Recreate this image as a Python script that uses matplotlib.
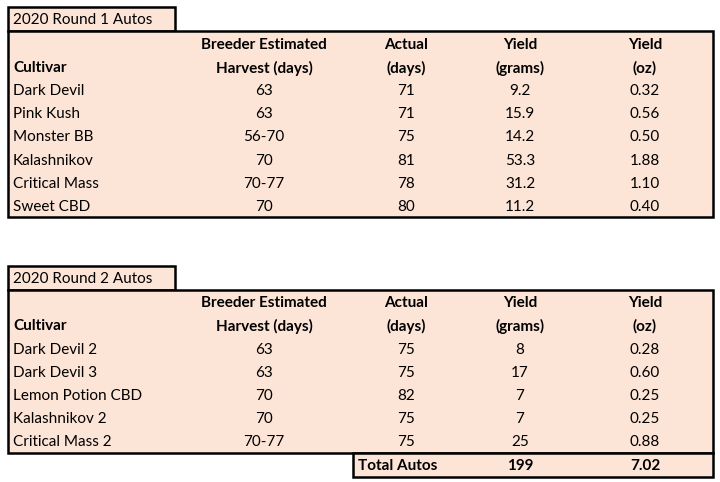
import matplotlib
matplotlib.use("Agg")
import matplotlib.pyplot as plt
from matplotlib.patches import Rectangle

plt.rcParams['font.family'] = ['Lato', 'DejaVu Sans']

title1 = "2020 Round 1 Autos"
title2 = "2020 Round 2 Autos"
header_top = ["", "Breeder Estimated", "Actual", "Yield", "Yield"]
header_bot = ["Cultivar", "Harvest (days)", "(days)", "(grams)", "(oz)"]

cultivars1 = ["Dark Devil", "Pink Kush", "Monster BB", "Kalashnikov", "Critical Mass", "Sweet CBD"]
breeder1 = ["63", "63", "56-70", "70", "70-77", "70"]
actual1 = [71, 71, 75, 81, 78, 80]
grams1 = [9.2, 15.9, 14.2, 53.3, 31.2, 11.2]
oz1 = [0.32, 0.56, 0.50, 1.88, 1.10, 0.40]

cultivars2 = ["Dark Devil 2", "Dark Devil 3", "Lemon Potion CBD", "Kalashnikov 2", "Critical Mass 2"]
breeder2 = ["63", "63", "70", "70", "70-77"]
actual2 = [75, 75, 82, 75, 75]
grams2 = ["8", "17", "7", "7", "25"]
oz2 = [0.28, 0.60, 0.25, 0.25, 0.88]

total_label = "Total Autos"
total_grams = "199"
total_oz = "7.02"

W, H = 720, 482
fig = plt.figure(figsize=(7.2, 4.82), dpi=100)
ax = fig.add_axes([0, 0, 1, 1])
ax.set_xlim(0, W)
ax.set_ylim(H, 0)
ax.axis('off')

fill = '#FCE4D6'
lw = 1.8
fs = 11
col_x = [13, 264, 406, 520, 645]
col_ha = ['left', 'center', 'center', 'center', 'center']

def box(x0, y0, x1, y1):
    ax.add_patch(Rectangle((x0, y0), x1 - x0, y1 - y0, facecolor=fill,
                           edgecolor='black', linewidth=lw, zorder=1))

def draw_table(title, ty0, ty1, tb1, hy, rows_y, cols):
    box(8, ty0, 175, ty1)
    box(8, ty1, 713, tb1)
    ax.text(13, (ty0 + ty1) / 2 + 1, title, fontsize=fs, va='center', ha='left', zorder=3)
    for j in range(5):
        ax.text(col_x[j], hy[0], header_top[j], fontsize=fs, fontweight='bold',
                va='center', ha=col_ha[j], zorder=3)
        ax.text(col_x[j], hy[1], header_bot[j], fontsize=fs, fontweight='bold',
                va='center', ha=col_ha[j], zorder=3)
    for i, y in enumerate(rows_y):
        for j in range(5):
            ax.text(col_x[j], y, cols[j][i], fontsize=fs, va='center',
                    ha=col_ha[j], zorder=3)

cols1 = [cultivars1, breeder1, [str(v) for v in actual1],
         [f"{v:.1f}" for v in grams1], [f"{v:.2f}" for v in oz1]]
rows1 = [91 + 23.2 * i for i in range(len(cultivars1))]
draw_table(title1, 7, 31, 217, (45, 68), rows1, cols1)

cols2 = [cultivars2, breeder2, [str(v) for v in actual2],
         grams2, [f"{v:.2f}" for v in oz2]]
rows2 = [350 + 23.1 * i for i in range(len(cultivars2))]
draw_table(title2, 266, 290, 453, (303, 326), rows2, cols2)

box(353, 453, 713, 477)
ax.text(398, 466, total_label, fontsize=fs, fontweight='bold', va='center', ha='center', zorder=3)
ax.text(520, 466, total_grams, fontsize=fs, fontweight='bold', va='center', ha='center', zorder=3)
ax.text(645, 466, total_oz, fontsize=fs, fontweight='bold', va='center', ha='center', zorder=3)

fig.savefig("out.png", dpi=100, facecolor='white')
